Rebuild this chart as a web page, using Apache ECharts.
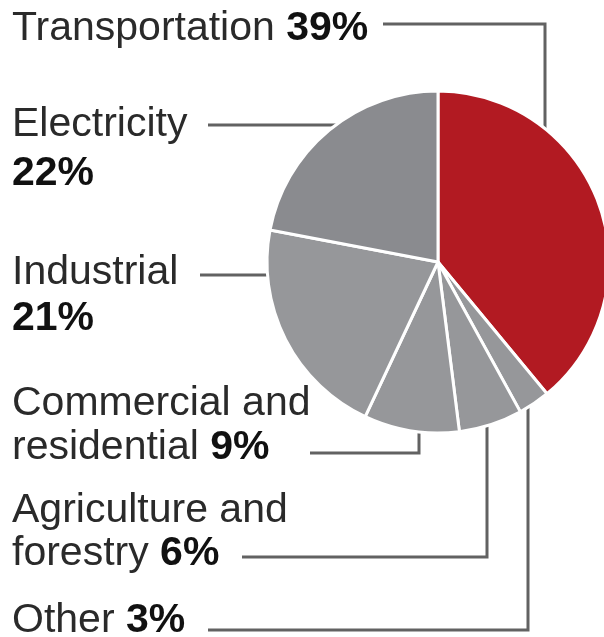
<!DOCTYPE html>
<html>
<head>
<meta charset="utf-8">
<script src="https://cdn.jsdelivr.net/npm/echarts@6/dist/echarts.min.js"></script>
<style>
  html, body { margin: 0; padding: 0; background: #fff; }
  #chart { width: 604px; height: 637px; }
</style>
</head>
<body>
<div id="chart"></div>
<script>
// Sectors, clockwise from 12 o'clock
const categories = ['Transportation', 'Other', 'Agriculture and forestry', 'Commercial and residential', 'Industrial', 'Electricity'];
const shares = [39, 3, 6, 9, 21, 22];
// Label text as it wraps on the page (the share is appended in bold)
const labelNames = ['Transportation', 'Other', 'Agriculture and\nforestry', 'Commercial and\nresidential', 'Industrial\n', 'Electricity\n'];
const sliceColors = ['#b21a22', '#96979a', '#96979a', '#96979a', '#96979a', '#8a8b8f'];

// Pie geometry (pixels)
const CX = 438, CY = 262, R = 170;

// Label placement: x / top of text block, line height, leader line
//  'h'     : straight horizontal line at y, from x0 to the pie edge
//  'elbow' : horizontal at y from x0 to vx, then vertical to the pie edge
const labelLayoutCfg = [
  { x: 12, top: 6,   lh: 46, kind: 'elbow', y: 24,  x0: 383, vx: 545 },
  { x: 12, top: 598, lh: 46, kind: 'elbow', y: 630, x0: 208, vx: 528 },
  { x: 12, top: 489, lh: 43, kind: 'elbow', y: 557, x0: 242, vx: 487 },
  { x: 12, top: 382, lh: 44, kind: 'elbow', y: 453, x0: 310, vx: 419 },
  { x: 12, top: 250, lh: 46, kind: 'h',     y: 275, x0: 200 },
  { x: 12, top: 100, lh: 49, kind: 'h',     y: 125, x0: 208 }
];

function leaderPoints(c) {
  if (c.kind === 'h') {
    const ex = CX - Math.sqrt(R * R - (c.y - CY) * (c.y - CY));
    return [[ex, c.y], [ex, c.y], [c.x0, c.y]];
  }
  const dy = Math.sqrt(R * R - (c.vx - CX) * (c.vx - CX));
  const ey = c.y < CY ? CY - dy : CY + dy;
  return [[c.vx, ey], [c.vx, c.y], [c.x0, c.y]];
}

const chart = echarts.init(document.getElementById('chart'), null, { renderer: 'canvas' });

const data = categories.map((name, i) => ({
  name: name,
  value: shares[i],
  itemStyle: { color: sliceColors[i] },
  label: {
    lineHeight: labelLayoutCfg[i].lh,
    rich: { b: { lineHeight: labelLayoutCfg[i].lh } }
  }
}));

chart.setOption({
  animation: false,
  backgroundColor: '#ffffff',
  series: [{
    type: 'pie',
    center: [CX, CY],
    radius: [0, R + 1],
    startAngle: 90,
    clockwise: true,
    avoidLabelOverlap: false,
    itemStyle: { borderColor: '#ffffff', borderWidth: 3 },
    emphasis: { disabled: true },
    label: {
      show: true,
      position: 'outside',
      fontFamily: 'Liberation Sans',
      fontSize: 41,
      color: '#2a2a2a',
      formatter: function (p) {
        const n = labelNames[p.dataIndex];
        return n + (n.endsWith('\n') ? '' : ' ') + '{b|' + p.value + '%}';
      },
      rich: {
        b: { fontFamily: 'Liberation Sans', fontSize: 41, fontWeight: 'bold', color: '#111111' }
      }
    },
    labelLine: {
      show: true,
      smooth: false,
      lineStyle: { color: '#626262', width: 3 }
    },
    labelLayout: function (p) {
      const c = labelLayoutCfg[p.dataIndex];
      return {
        x: c.x,
        y: c.top,
        align: 'left',
        verticalAlign: 'top',
        labelLinePoints: leaderPoints(c)
      };
    },
    data: data
  }]
});
</script>
</body>
</html>
